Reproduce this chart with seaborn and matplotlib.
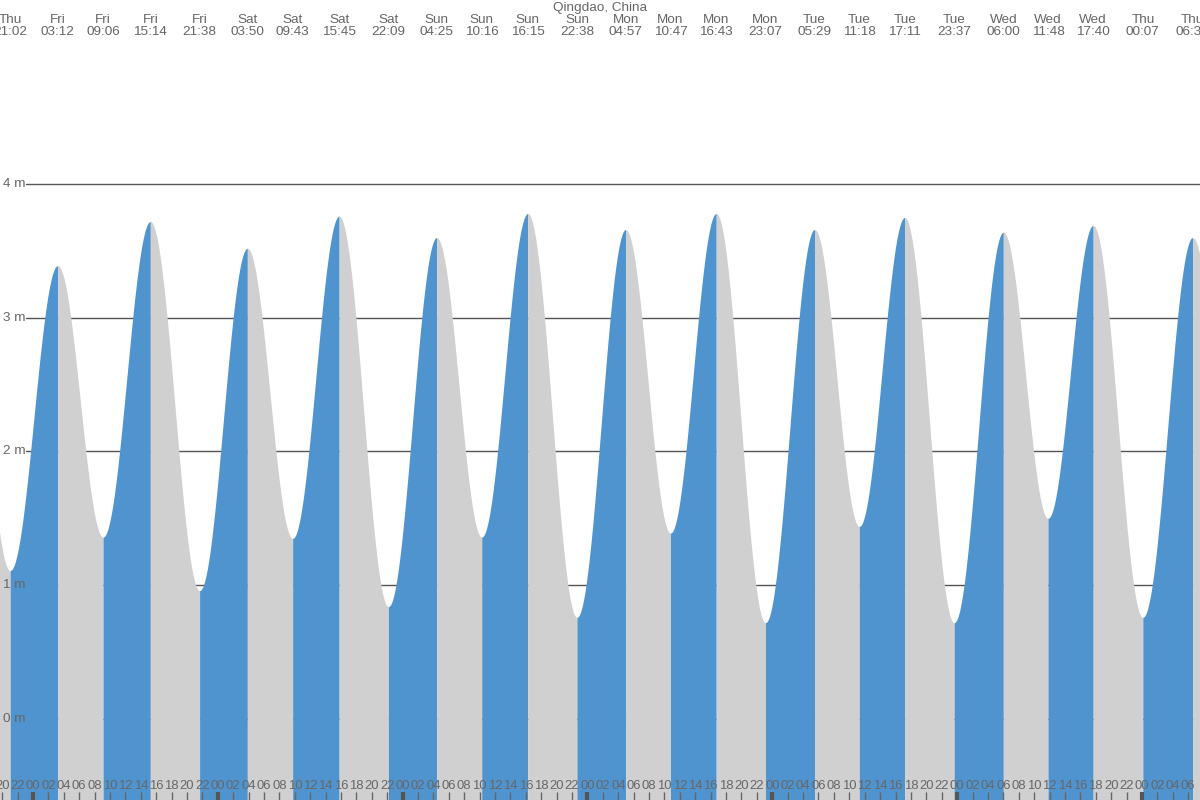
import numpy as np
import pandas as pd
import matplotlib
matplotlib.use("Agg")
import matplotlib.pyplot as plt
import matplotlib.transforms as mtransforms
import seaborn as sns

# ---- data: tide extremes (day name, local time, height in m) ----
ext_days = ["Thu", "Thu", "Fri", "Fri", "Fri", "Fri", "Sat", "Sat", "Sat", "Sat",
            "Sun", "Sun", "Sun", "Sun", "Mon", "Mon", "Mon", "Mon",
            "Tue", "Tue", "Tue", "Tue", "Wed", "Wed", "Wed", "Thu", "Thu", "Thu"]
ext_times = ["14:50", "21:02", "03:12", "09:06", "15:14", "21:38", "03:50", "09:43", "15:45", "22:09",
             "04:25", "10:16", "16:15", "22:38", "04:57", "10:47", "16:43", "23:07",
             "05:29", "11:18", "17:11", "23:37", "06:00", "11:48", "17:40", "00:07", "06:35", "12:25"]
ext_heights = [3.55, 1.11, 3.39, 1.36, 3.72, 0.96, 3.52, 1.35, 3.76, 0.84,
               3.60, 1.36, 3.78, 0.76, 3.66, 1.39, 3.78, 0.72,
               3.66, 1.44, 3.75, 0.72, 3.64, 1.50, 3.69, 0.76, 3.60, 1.50]
y_ticks = [0, 1, 2, 3, 4]
title = "Qingdao, China"

# hours since Fri 00:00
day_idx = []
cur = -1
prev = ext_days[0]
for d in ext_days:
    if d != prev:
        cur += 1
        prev = d
    day_idx.append(cur)
ext_hours = [di * 24 + int(t[:2]) + int(t[3:]) / 60 for di, t in zip(day_idx, ext_times)]

X0, X1 = -4.285, 151.54
Y0, Y1 = -0.606, 5.376

BLUE = "#4f94cf"
GRAY = "#d0d0d0"
TXT = "#666666"
FS = 9.7
FS_H = 9.4

sns.set_theme(style="white")
plt.rcParams["font.family"] = ["Liberation Sans", "DejaVu Sans"]

fig = plt.figure(figsize=(12, 8), dpi=100)
ax = fig.add_axes([0, 0, 1, 1])
ax.set_xlim(X0, X1)
ax.set_ylim(Y0, Y1)
ax.axis("off")

# curve between consecutive extremes (cosine shape)
rows = []
for i in range(len(ext_hours) - 1):
    t0, t1 = ext_hours[i], ext_hours[i + 1]
    h0, h1 = ext_heights[i], ext_heights[i + 1]
    tt = np.linspace(t0, t1, 120)
    u = (tt - t0) / (t1 - t0)
    hh = h0 + (h1 - h0) * (1 - np.cos(np.pi * u)) / 2
    col = BLUE if h1 > h0 else GRAY
    ax.fill_between(tt, Y0, hh, color=col, linewidth=0, zorder=2)
    rows.append(pd.DataFrame({"t": tt, "h": hh, "seg": i}))
df = pd.concat(rows)
sns.lineplot(data=df, x="t", y="h", units="seg", estimator=None, color="white",
             linewidth=0.0, ax=ax, legend=False, zorder=3)

# grid lines (behind the fill)
trans_y = mtransforms.blended_transform_factory(ax.transAxes, ax.transData)
for yv in y_ticks:
    ax.axhline(yv, xmin=26 / 1200, xmax=1, color="#555555", linewidth=1, zorder=1)
    ax.text(3 / 1200, yv, f"{yv} m", transform=trans_y,
            ha="left", va="center", fontsize=FS, color=TXT, zorder=5)

# top labels for extremes
trans_top = mtransforms.blended_transform_factory(ax.transData, ax.transAxes)
for d, t, hr in zip(ext_days, ext_times, ext_hours):
    if X0 - 1 <= hr <= X1 + 1:
        ax.text(hr, 1 - 20 / 800, d, transform=trans_top, ha="center", va="center",
                fontsize=FS, color=TXT, zorder=5, clip_on=False)
        ax.text(hr, 1 - 32 / 800, t, transform=trans_top, ha="center", va="center",
                fontsize=FS, color=TXT, zorder=5, clip_on=False)
ax.text(0.5, 1 - 8 / 800, title, transform=ax.transAxes, ha="center", va="center",
        fontsize=FS, color=TXT, zorder=5)

# bottom hour ticks every 2 h
start = int(np.ceil(X0 / 2) * 2)
for hr in range(start, int(X1) + 1, 2):
    hod = hr % 24
    ax.text(hr, 1 - 786 / 800, f"{hod:02d}", transform=trans_top, ha="center", va="center",
            fontsize=FS_H, color=TXT, zorder=5)
    lw = 3 if hod == 0 else 1
    col = "#555555" if hod == 0 else "#666666"
    ax.plot([hr, hr], [8 / 800, 0], transform=trans_top, color=col, linewidth=lw,
            zorder=5, solid_capstyle="butt")

fig.savefig("out.png", dpi=100)
